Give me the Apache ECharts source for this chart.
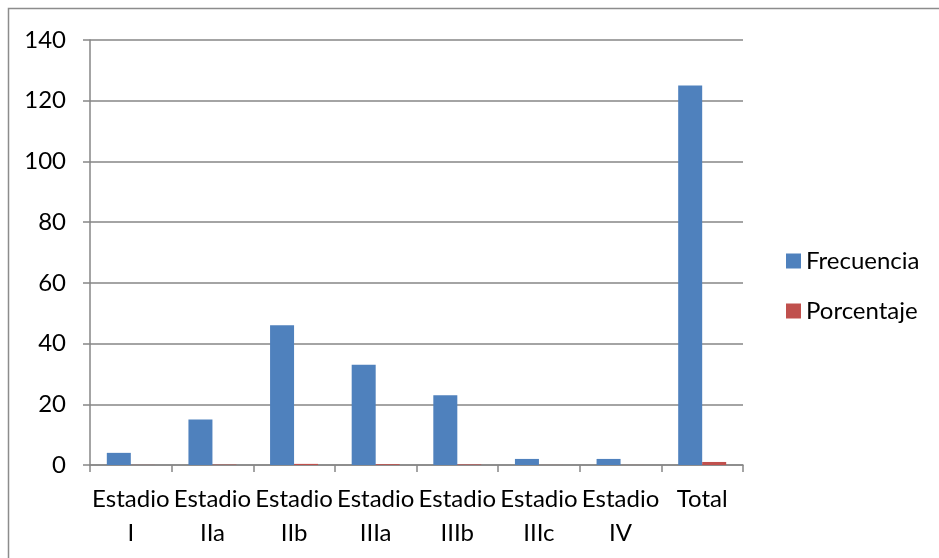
<!DOCTYPE html>
<html><head><meta charset="utf-8">
<script src="https://cdn.jsdelivr.net/npm/echarts@6/dist/echarts.min.js"></script>
<style>html,body{margin:0;padding:0;background:#fff}#c{width:939px;height:558px}</style>
</head><body><div id="c"></div>
<script>
const categories = ['Estadio\nI','Estadio\nIIa','Estadio\nIIb','Estadio\nIIIa','Estadio\nIIIb','Estadio\nIIIc','Estadio\nIV','Total'];
const frecuencia = [4, 15, 46, 33, 23, 2, 2, 125];
const porcentaje = [0.032, 0.12, 0.368, 0.264, 0.184, 0.016, 0.016, 1];
const yTicks = {min: 0, max: 140, interval: 20};

const chart = echarts.init(document.getElementById('c'), null, {renderer: 'canvas'});
const font = 'Lato, "Open Sans", sans-serif';
chart.setOption({
  animation: false,
  graphic: [{type: 'rect', shape: {x: 8.5, y: 8.5, width: 940, height: 560}, style: {fill: 'none', stroke: '#8c8c8c', lineWidth: 1.5}}],
  grid: {left: 90, right: 196, top: 40, bottom: 93},
  legend: {
    orient: 'vertical', left: 781, top: 244, itemWidth: 15, itemHeight: 15, itemGap: 26,
    textStyle: {fontFamily: font, fontSize: 24, color: '#000'},
    icon: 'rect',
    data: ['Frecuencia', 'Porcentaje']
  },
  xAxis: {
    type: 'category', data: categories,
    axisLine: {lineStyle: {color: '#868686', width: 1.5}},
    axisTick: {show: true, length: 7, lineStyle: {color: '#868686', width: 1.5}},
    axisLabel: {interval: 0, margin: 17, fontFamily: font, fontSize: 24, color: '#000', lineHeight: 34}
  },
  yAxis: {
    type: 'value', min: yTicks.min, max: yTicks.max, interval: yTicks.interval,
    axisLine: {show: true, lineStyle: {color: '#868686', width: 1.5}},
    axisTick: {show: true, length: 7, lineStyle: {color: '#868686', width: 1.5}},
    splitLine: {lineStyle: {color: '#868686', width: 1.5}},
    axisLabel: {margin: 24, fontFamily: font, fontSize: 24, color: '#000'}
  },
  series: [
    {name: 'Frecuencia', type: 'bar', data: frecuencia, barWidth: 24, barGap: '0%', itemStyle: {color: '#4f81bd'}},
    {name: 'Porcentaje', type: 'bar', data: porcentaje, barWidth: 24, barGap: '0%', itemStyle: {color: '#c0504d'}}
  ]
});
</script></body></html>
